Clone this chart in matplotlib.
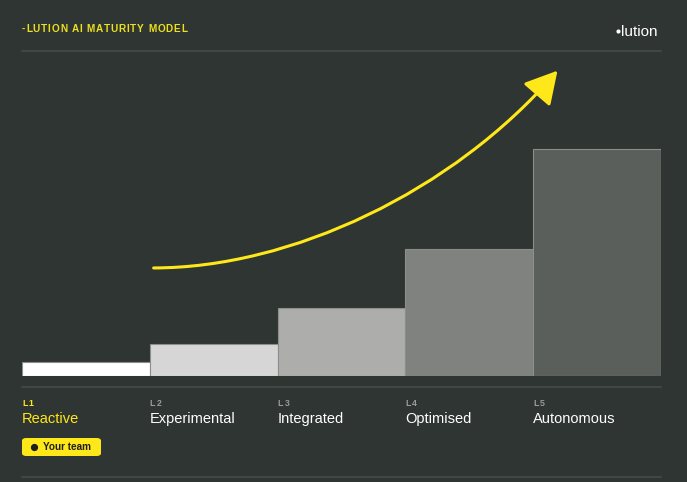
import matplotlib
matplotlib.use("Agg")
import matplotlib.pyplot as plt
from matplotlib.path import Path
from matplotlib.patches import FancyArrowPatch, FancyBboxPatch

# data
levels = ["L1", "L2", "L3", "L4", "L5"]
names = ["Reactive", "Experimental", "Integrated", "Optimised", "Autonomous"]
maturity = [6, 14, 30, 56, 100]
bar_colors = ["#ffffff", "#d6d6d6", "#adaeac", "#808280", "#5b5f5b"]
current = 0

BG = "#2f3532"
YELLOW = "#ffe81a"
LINE = "#454b47"
W, H = 687, 482


def fx(px):
    return px / W


def fy(py):
    return 1 - py / H


fig = plt.figure(figsize=(W / 100, H / 100), dpi=100, facecolor=BG)
plt.rcParams['font.family'] = ['Liberation Sans', 'DejaVu Sans']
renderer = fig.canvas.get_renderer()


def spaced_text(px, py, s, spacing, **kw):
    # draw text one char at a time with extra tracking (in pixels)
    cur = px
    for ch in s:
        t = fig.text(fx(cur), fy(py), ch, va="center", ha="left", **kw)
        w = t.get_window_extent(renderer).width
        if ch == " ":
            w = kw.get("fontsize", 10) * 0.28 * 100 / 72
        cur += w + spacing
    return cur


# bars axes: from x=22 to 661, baseline 376, top 51
ax = fig.add_axes([fx(22), fy(376), fx(661) - fx(22), fy(51) - fy(376)])
ax.set_facecolor(BG)
ax.patch.set_alpha(0)
x = list(range(len(maturity)))
ax.bar(x, maturity, width=1.0, color=bar_colors, edgecolor="#8c8e8c", linewidth=0.8)
ax.set_xlim(-0.5, 4.5)
ax.set_ylim(0, 100 * 325 / 227)
ax.axis("off")

# growth arrow (bezier in data coords)
verts = [(0.53, 47.6), (1.6, 47.6), (2.87, 81.0), (3.69, 134.5)]
codes = [Path.MOVETO, Path.CURVE4, Path.CURVE4, Path.CURVE4]
arrow = FancyArrowPatch(path=Path(verts, codes), arrowstyle="-|>,head_length=9,head_width=5",
                        color=YELLOW, linewidth=2.2, mutation_scale=2.2,
                        transform=ax.transData, clip_on=False)
ax.add_patch(arrow)

# separators
for py in [51, 387, 477]:
    fig.add_artist(plt.Line2D([fx(22), fx(661)], [fy(py), fy(py)], color=LINE, linewidth=1.2))

# header
spaced_text(22, 29, "-LUTION AI MATURITY MODEL", 0.8, color="#ece01e", fontsize=7.2,
            fontweight="bold")
fig.add_artist(plt.Line2D([fx(618)], [fy(31)], marker="o", markersize=3, color="white",
                          markeredgewidth=0, transform=fig.transFigure))
fig.text(fx(657), fy(31.5), "lution", color="white", fontsize=11, va="center", ha="right")

# level labels
for i in range(len(levels)):
    px = 22 + i * 127.8
    c1 = YELLOW if i == current else "#9a9c9a"
    c2 = YELLOW if i == current else "white"
    spaced_text(px, 403, levels[i], 1.6, color=c1, fontsize=6.3, fontweight="bold")
    fig.text(fx(px), fy(419), names[i], color=c2, fontsize=10.5, va="center", ha="left")

# your team badge
badge = FancyBboxPatch((fx(22), fy(456)), fx(101) - fx(22), fy(438) - fy(456),
                       boxstyle="round,pad=0,rounding_size=0.006", transform=fig.transFigure,
                       facecolor=YELLOW, edgecolor="none")
fig.add_artist(badge)
fig.add_artist(plt.Line2D([fx(34)], [fy(447)], marker="o", markersize=4.2, color="#1e1e1e",
                          transform=fig.transFigure))
fig.text(fx(43), fy(447), "Your team", color="#1e1e1e", fontsize=7.2, fontweight="bold",
         va="center", ha="left")

fig.savefig("out.png", dpi=100, facecolor=BG)
